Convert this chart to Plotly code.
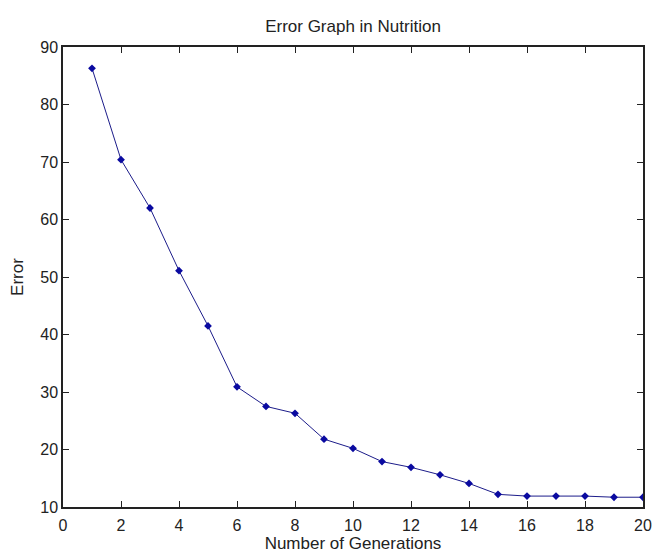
import plotly.graph_objects as go

generations = list(range(1, 21))
error = [86.3, 70.4, 62.0, 51.1, 41.5, 30.9, 27.5, 26.3, 21.8, 20.2,
         17.9, 16.9, 15.6, 14.1, 12.2, 11.9, 11.9, 11.9, 11.7, 11.7]

title_text = "Error Graph in Nutrition"
x_label = "Number of Generations"
y_label = "Error"
x_ticks = [0, 2, 4, 6, 8, 10, 12, 14, 16, 18, 20]
y_ticks = [10, 20, 30, 40, 50, 60, 70, 80, 90]

FONT = "Liberation Sans, Arial, sans-serif"
TXT = "#222222"

fig = go.Figure()
fig.add_trace(go.Scatter(
    x=generations, y=error, mode="lines+markers",
    line=dict(color="#1c1c8a", width=1),
    marker=dict(symbol="diamond", size=6, color="#0a0aa0"),
    showlegend=False,
))

axis_common = dict(
    showline=True, linecolor=TXT, linewidth=1.5, mirror="ticks",
    ticks="inside", ticklen=6, tickwidth=1, tickcolor=TXT,
    showgrid=False, zeroline=False,
    tickfont=dict(family=FONT, size=16, color=TXT),
)

fig.update_layout(
    width=662, height=556,
    margin=dict(l=63, r=10, t=47, b=47),
    paper_bgcolor="white", plot_bgcolor="white",
    title=dict(text=title_text, xref="paper", x=0.5, xanchor="center",
               y=1 - 26/556, yanchor="middle",
               font=dict(family=FONT, size=17, color=TXT)),
    xaxis=dict(range=[0, 20], tickvals=x_ticks, ticklabelstandoff=3,
               title=dict(text=x_label, standoff=0, font=dict(family=FONT, size=17, color=TXT)),
               **axis_common),
    yaxis=dict(range=[10, 90], tickvals=y_ticks,
               title=dict(text=y_label, standoff=12, font=dict(family=FONT, size=17, color=TXT)),
               **axis_common),
)

fig.write_html("out.html", config={"displayModeBar": False},
               post_script="document.body.style.margin='0px';")
